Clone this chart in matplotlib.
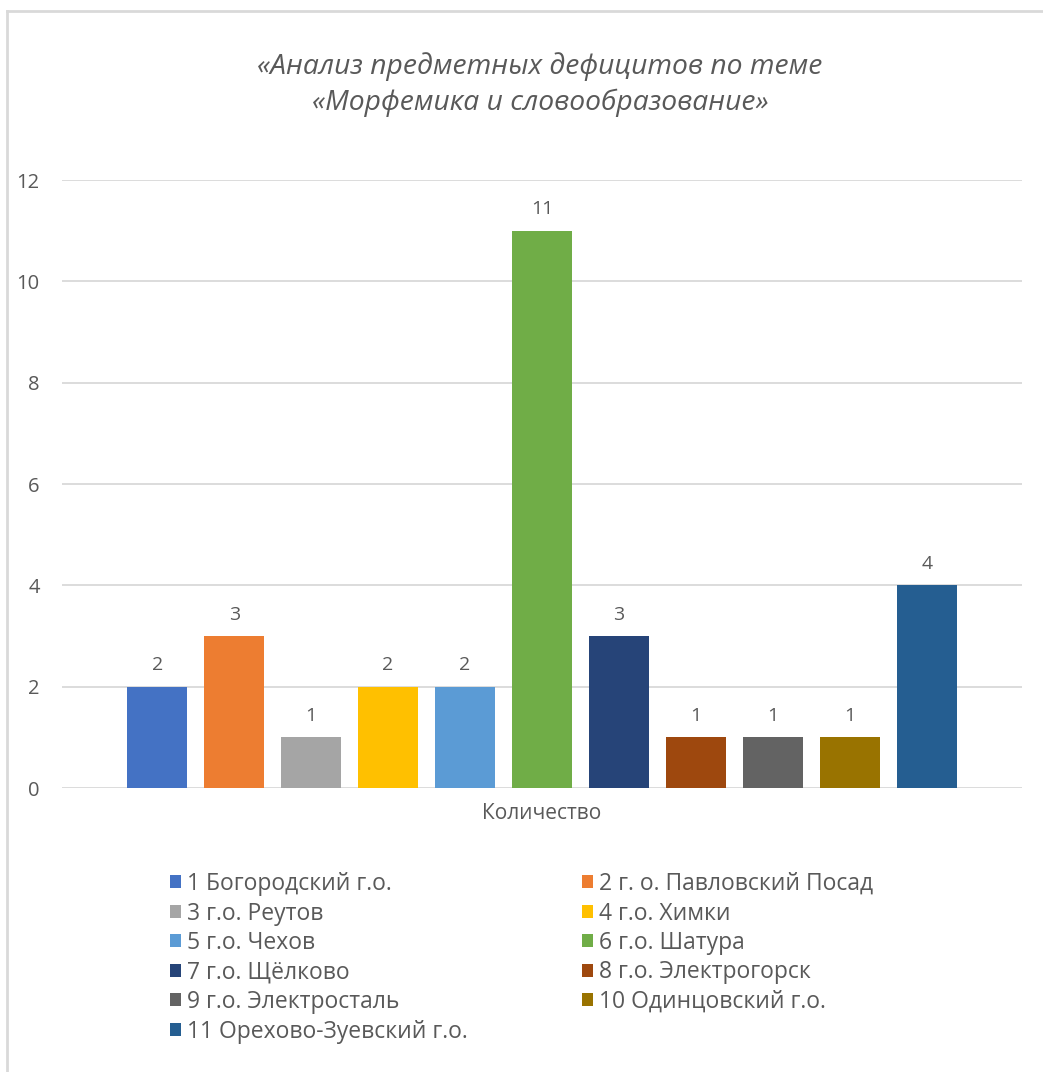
import matplotlib.pyplot as plt
from matplotlib.patches import Patch
from matplotlib.lines import Line2D

# Данные
labels = ['1 Богородский г.о.', '2 г. о. Павловский Посад', '3 г.о. Реутов',
          '4 г.о. Химки', '5 г.о. Чехов', '6 г.о. Шатура', '7 г.о. Щёлково',
          '8 г.о. Электрогорск', '9 г.о. Электросталь', '10 Одинцовский г.о.',
          '11 Орехово-Зуевский г.о.']
values = [2, 3, 1, 2, 2, 11, 3, 1, 1, 1, 4]
colors = ['#4472C4', '#ED7D31', '#A5A5A5', '#FFC000', '#5B9BD5', '#70AD47',
          '#264478', '#9E480E', '#636363', '#997300', '#255E91']
yticks = [0, 2, 4, 6, 8, 10, 12]

plt.rcParams['font.family'] = ['Open Sans', 'DejaVu Sans']
grey = '#595959'
W, H = 1043, 1072

fig = plt.figure(figsize=(W / 100, H / 100), dpi=100)
ax = fig.add_axes([62 / W, 1 - 788 / H, 960 / W, 608 / H])

x = list(range(len(values)))
ax.bar(x, values, width=0.78, color=colors, zorder=3)
for xi, v in zip(x, values):
    ax.annotate(str(v), (xi, v), xytext=(0, 9), textcoords='offset points',
                ha='center', va='bottom', fontsize=14, color=grey)

ax.set_xlim(-1.237, len(values) - 1 + 1.237)
ax.set_ylim(0, 12)
ax.set_yticks(yticks)
ax.yaxis.grid(True, color='#D9D9D9', linewidth=1.3, zorder=0)
ax.set_xticks([])
ax.tick_params(axis='y', length=0, labelsize=14.5, labelcolor=grey, pad=16)
for s in ax.spines.values():
    s.set_visible(False)
ax.set_xlabel('Количество', fontsize=15, color=grey, labelpad=11)

fig.text(540 / W, 1 - 67 / H, '«Анализ предметных дефицитов по теме',
         ha='center', va='center', fontsize=20.3, style='italic', color=grey)
fig.text(540 / W, 1 - 103 / H, '«Морфемика и словообразование»',
         ha='center', va='center', fontsize=20.3, style='italic', color=grey)

# Легенда в две колонки, порядок по строкам
handles = [Patch(facecolor=c) for c in colors]
for col, xpos in ((0, 170), (1, 582)):
    idx = list(range(col, len(labels), 2))
    leg = fig.legend([handles[i] for i in idx], [labels[i] for i in idx],
                     loc='upper left', bbox_to_anchor=(xpos / W, 1 - 872 / H),
                     frameon=False, fontsize=16.5, handlelength=0.48,
                     handleheight=0.48, handletextpad=0.25, labelspacing=0.24,
                     borderpad=0, borderaxespad=0)
    for t in leg.get_texts():
        t.set_color(grey)

# Рамка
fig.add_artist(Line2D([7 / W, 7 / W], [0, 1 - 11 / H], color='#D9D9D9', lw=2))
fig.add_artist(Line2D([7 / W, 1], [1 - 11 / H, 1 - 11 / H], color='#D9D9D9', lw=2))

fig.savefig('out.png', dpi=100)
